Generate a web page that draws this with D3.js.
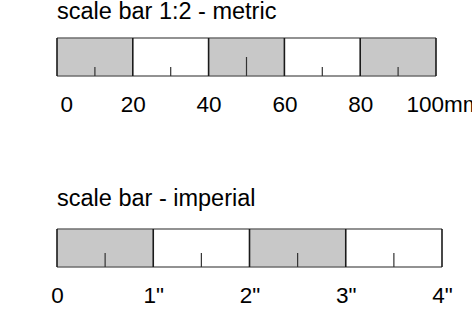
<!DOCTYPE html>
<html>
<head>
<meta charset="utf-8">
<script src="https://cdn.jsdelivr.net/npm/d3@7"></script>
<style>
  body { margin: 0; background: #fff; }
  text { font-family: "Liberation Sans", Arial, sans-serif; fill: #000; }
</style>
</head>
<body>
<div id="chart"></div>
<script>
const width = 472;
const height = 312;

// metric bar (1:2), values in mm
const metricTitle = "scale bar 1:2 - metric";
const metricSteps = [0, 20, 40, 60, 80, 100];
const metricLabels = ["0", "20", "40", "60", "80", "100mm"];
const metricMinor = [10, 30, 70, 90];
const metricMid = [50];

// imperial bar, values in inches
const imperialTitle = "scale bar - imperial";
const imperialSteps = [0, 1, 2, 3, 4];
const imperialLabels = ["0", "1\"", "2\"", "3\"", "4\""];
const imperialMinor = [0.5, 1.5, 2.5, 3.5];
const imperialMid = [];

const svg = d3.select("#chart").append("svg")
    .attr("width", width)
    .attr("height", height);

function drawBar(opts) {
    const x = d3.scaleLinear().domain(opts.domain).range(opts.range);
    const g = svg.append("g");
    const top = opts.top, h = 38;

    g.append("text")
        .attr("x", opts.range[0])
        .attr("y", opts.titleY)
        .style("font-size", "23.5px")
        .text(opts.title);

    // alternating segments
    const segs = d3.pairs(opts.steps);
    g.selectAll("rect.seg")
        .data(segs)
        .enter()
        .append("rect")
        .attr("class", "seg")
        .attr("x", d => x(d[0]))
        .attr("y", top)
        .attr("width", d => x(d[1]) - x(d[0]))
        .attr("height", h)
        .attr("fill", (d, i) => i % 2 === 0 ? "#c8c8c8" : "#fff");

    // top / bottom edge
    [top, top + h].forEach(yy => {
        g.append("line")
            .attr("x1", x(opts.domain[0])).attr("x2", x(opts.domain[1]))
            .attr("y1", yy).attr("y2", yy)
            .attr("stroke", "#6e6e6e")
            .attr("stroke-width", 1.6);
    });

    // segment boundaries
    g.selectAll("line.div")
        .data(opts.steps)
        .enter()
        .append("line")
        .attr("class", "div")
        .attr("x1", d => x(d)).attr("x2", d => x(d))
        .attr("y1", top).attr("y2", top + h)
        .attr("stroke", "#1a1a1a")
        .attr("stroke-width", 1.6);

    // small ticks
    g.selectAll("line.minor")
        .data(opts.minor)
        .enter()
        .append("line")
        .attr("class", "minor")
        .attr("x1", d => x(d)).attr("x2", d => x(d))
        .attr("y1", top + h - opts.minorLen).attr("y2", top + h)
        .attr("stroke", "#333")
        .attr("stroke-width", 1.2);

    g.selectAll("line.mid")
        .data(opts.mid)
        .enter()
        .append("line")
        .attr("class", "mid")
        .attr("x1", d => x(d)).attr("x2", d => x(d))
        .attr("y1", top + h - 19).attr("y2", top + h)
        .attr("stroke", "#333")
        .attr("stroke-width", 1.2);

    // labels via axis
    const axis = d3.axisBottom(x)
        .tickValues(opts.steps)
        .tickSize(0)
        .tickPadding(0)
        .tickFormat((d, i) => opts.labels[i]);
    const ag = g.append("g")
        .attr("transform", "translate(0," + opts.labelY + ")")
        .call(axis);
    ag.select(".domain").remove();
    ag.selectAll("text")
        .attr("dy", null)
        .attr("y", 0)
        .style("font-size", "22.5px")
        .style("font-family", "'Liberation Sans', Arial, sans-serif");
    if (opts.metricEnds) {
        const t = ag.selectAll(".tick text");
        t.filter((d, i) => i === 0).attr("text-anchor", "start").attr("x", 3);
        t.filter((d, i) => i === opts.steps.length - 1).attr("text-anchor", "start").attr("x", -30);
    }
}

drawBar({
    title: metricTitle, titleY: 19,
    domain: [0, 100], range: [57, 436],
    steps: metricSteps, labels: metricLabels,
    minor: metricMinor, mid: metricMid, minorLen: 9,
    top: 38, labelY: 111.5, metricEnds: true
});

drawBar({
    title: imperialTitle, titleY: 206,
    domain: [0, 4], range: [57, 442],
    steps: imperialSteps, labels: imperialLabels,
    minor: imperialMinor, mid: imperialMid, minorLen: 14,
    top: 229, labelY: 303, metricEnds: false
});
</script>
</body>
</html>
